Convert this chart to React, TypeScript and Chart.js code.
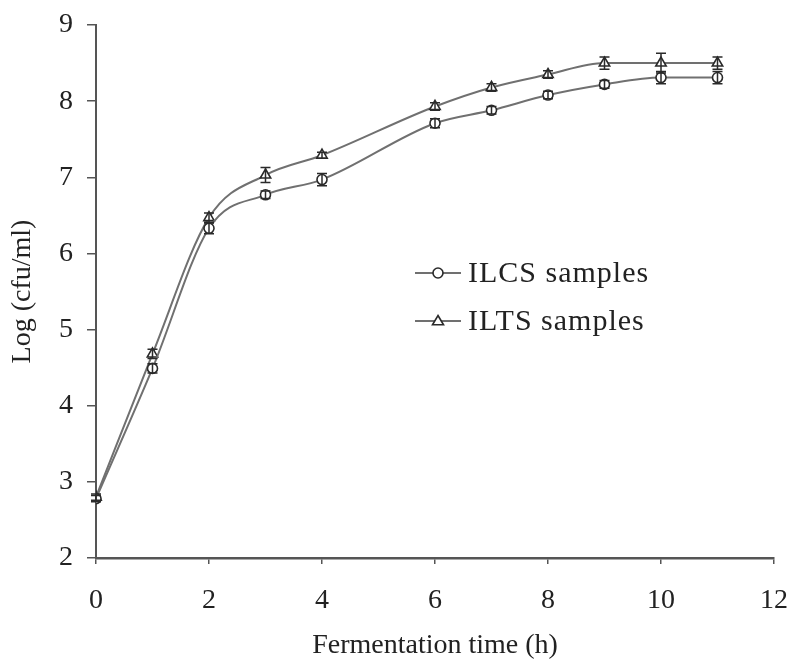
import React, { useEffect, useRef } from "react";
import { Chart, registerables } from "chart.js";

Chart.register(...registerables);

const hours = [0, 1, 2, 3, 4, 6, 7, 8, 9, 10, 11];
const ilcs = [2.78, 4.49, 6.33, 6.77, 6.97, 7.71, 7.88, 8.08, 8.22, 8.31, 8.31];
const ilts = [2.8, 4.68, 6.47, 7.03, 7.29, 7.93, 8.18, 8.35, 8.5, 8.5, 8.5];
const ilcsErr = [0.04, 0.06, 0.07, 0.05, 0.08, 0.06, 0.05, 0.05, 0.05, 0.08, 0.08];
const iltsErr = [0.04, 0.06, 0.06, 0.1, 0.04, 0.05, 0.05, 0.05, 0.08, 0.13, 0.08];
const seriesNames = ["ILCS samples", "ILTS samples"];
const yTicks = [2, 3, 4, 5, 6, 7, 8, 9];

const FONT = "'Liberation Serif', 'Times New Roman', serif";
const LINE = "#707070";
const MARK = "#2a2a2a";

function drawMarker(ctx: CanvasRenderingContext2D, style: string, x: number, y: number, r: number) {
  ctx.save();
  ctx.beginPath();
  if (style === "circle") {
    ctx.arc(x, y, r, 0, Math.PI * 2);
  } else {
    ctx.moveTo(x, y - r * 1.1);
    ctx.lineTo(x + r * 1.1, y + r * 0.75);
    ctx.lineTo(x - r * 1.1, y + r * 0.75);
    ctx.closePath();
  }
  ctx.fillStyle = "#ffffff";
  ctx.fill();
  ctx.lineWidth = 1.6;
  ctx.strokeStyle = MARK;
  ctx.stroke();
  ctx.restore();
}

const errorBarPlugin = {
  id: "errorBars",
  afterDatasetsDraw(chart: any) {
    const ctx = chart.ctx;
    const xs = chart.scales.x;
    const ys = chart.scales.y;
    const sets = [
      { vals: ilcs, errs: ilcsErr },
      { vals: ilts, errs: iltsErr },
    ];
    ctx.save();
    ctx.strokeStyle = MARK;
    ctx.lineWidth = 1.5;
    sets.forEach((s) => {
      hours.forEach((h, i) => {
        const x = xs.getPixelForValue(h);
        const y1 = ys.getPixelForValue(s.vals[i] + s.errs[i]);
        const y2 = ys.getPixelForValue(s.vals[i] - s.errs[i]);
        ctx.beginPath();
        ctx.moveTo(x, y1);
        ctx.lineTo(x, y2);
        ctx.moveTo(x - 5, y1);
        ctx.lineTo(x + 5, y1);
        ctx.moveTo(x - 5, y2);
        ctx.lineTo(x + 5, y2);
        ctx.stroke();
      });
    });
    ctx.restore();
  },
};

const legendPlugin = {
  id: "insideLegend",
  afterDraw(chart: any) {
    const ctx = chart.ctx;
    const styles = ["circle", "triangle"];
    const x0 = 415;
    const rows = [273, 321];
    ctx.save();
    seriesNames.forEach((name, i) => {
      const y = rows[i];
      ctx.strokeStyle = LINE;
      ctx.lineWidth = 2;
      ctx.beginPath();
      ctx.moveTo(x0, y);
      ctx.lineTo(x0 + 46, y);
      ctx.stroke();
      drawMarker(ctx, styles[i], x0 + 23, y, 5);
      ctx.fillStyle = "#222";
      ctx.font = `30px ${FONT}`;
      (ctx as any).letterSpacing = "1px";
      ctx.textBaseline = "middle";
      ctx.textAlign = "left";
      ctx.fillText(name, x0 + 53, y + 1);
    });
    ctx.restore();
  },
};

export default function App() {
  const ref = useRef<HTMLCanvasElement | null>(null);

  useEffect(() => {
    if (!ref.current) return;
    const chart = new Chart(ref.current, {
      type: "line",
      data: {
        datasets: [
          {
            label: seriesNames[0],
            data: hours.map((h, i) => ({ x: h, y: ilcs[i] })),
            borderColor: LINE,
            borderWidth: 2,
            pointStyle: "circle",
            pointRadius: 5,
            pointBackgroundColor: "#ffffff",
            pointBorderColor: MARK,
            pointBorderWidth: 1.6,
            tension: 0.35,
            cubicInterpolationMode: "monotone",
          },
          {
            label: seriesNames[1],
            data: hours.map((h, i) => ({ x: h, y: ilts[i] })),
            borderColor: LINE,
            borderWidth: 2,
            pointStyle: "triangle",
            pointRadius: 6,
            pointBackgroundColor: "#ffffff",
            pointBorderColor: MARK,
            pointBorderWidth: 1.6,
            tension: 0.35,
            cubicInterpolationMode: "monotone",
          },
        ],
      },
      options: {
        responsive: false,
        animation: false,
        maintainAspectRatio: false,
        layout: { padding: { left: 0, top: 25, right: 16, bottom: 0 } },
        plugins: {
          legend: { display: false },
          tooltip: { enabled: false },
        },
        scales: {
          x: {
            type: "linear",
            min: 0,
            max: 12,
            ticks: {
              stepSize: 2,
              color: "#222",
              font: { family: FONT, size: 28 },
              padding: 20,
            },
            grid: { drawOnChartArea: false, drawTicks: true, tickLength: 6, color: "#555", lineWidth: 1.5 },
            border: { display: true, color: "#555", width: 2.5 },
            title: {
              display: true,
              text: "Fermentation time (h)",
              color: "#222",
              font: { family: FONT, size: 28 },
              padding: { top: 0, bottom: 1 },
            },
            afterFit(scale: any) {
              scale.height = 105;
              scale.paddingLeft = 0;
              scale.paddingRight = 0;
            },
          },
          y: {
            type: "linear",
            min: 2,
            max: 9,
            afterBuildTicks(scale: any) {
              scale.ticks = yTicks.map((v) => ({ value: v }));
            },
            ticks: {
              color: "#222",
              font: { family: FONT, size: 28 },
              padding: 14,
            },
            grid: { drawOnChartArea: false, drawTicks: true, tickLength: 9, color: "#555", lineWidth: 1.5 },
            border: { display: true, color: "#555", width: 2 },
            title: {
              display: true,
              text: "Log (cfu/ml)",
              color: "#222",
              font: { family: FONT, size: 28 },
              padding: { top: 6, bottom: 0 },
            },
            afterFit(scale: any) {
              scale.width = 96;
              scale.paddingTop = 0;
              scale.paddingBottom = 0;
            },
          },
        },
      },
      plugins: [errorBarPlugin, legendPlugin],
    });
    return () => chart.destroy();
  }, []);

  return (
    <div style={{ position: "fixed", left: 0, top: 0, width: 790, height: 663, background: "#fff" }}>
      <canvas ref={ref} width={790} height={663} style={{ width: 790, height: 663 }} />
    </div>
  );
}
